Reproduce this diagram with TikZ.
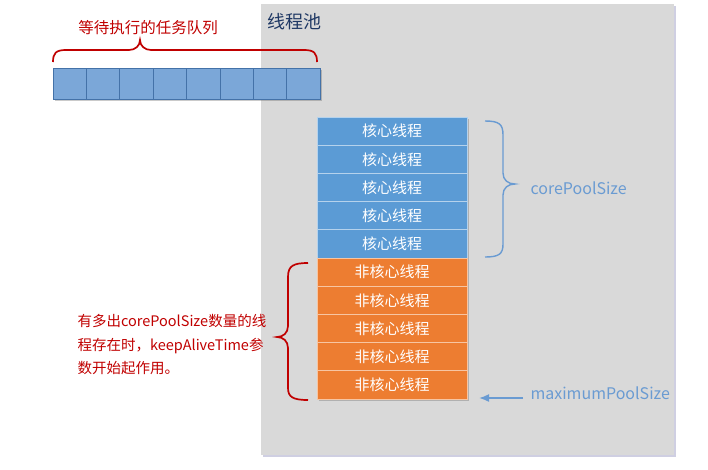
\documentclass[tikz,border=0pt]{standalone}
\usepackage{fontspec}
\setmainfont{Noto Sans CJK SC}
\usetikzlibrary{positioning,shadows,arrows.meta}

\definecolor{poolgray}{HTML}{D9D9D9}
\definecolor{poolnavy}{HTML}{1F3864}
\definecolor{queuefill}{HTML}{7BA7D8}
\definecolor{queueline}{HTML}{4472A8}
\definecolor{coreblue}{HTML}{5B9BD5}
\definecolor{extraorange}{HTML}{ED7D31}
\definecolor{notered}{HTML}{C00000}
\definecolor{labelblue}{HTML}{6A9BD2}

\tikzset{
  cellshadow/.style={drop shadow={shadow xshift=2pt, shadow yshift=-2pt, opacity=0.35, fill=black!60}},
  queuecell/.style={rectangle, draw=queueline, line width=1pt, fill=queuefill,
    minimum width=33.4pt, minimum height=31pt, inner sep=0pt, outer sep=0pt, cellshadow},
  corecell/.style={rectangle, draw=white!55!coreblue, line width=0.8pt, fill=coreblue,
    minimum width=150pt, minimum height=28.2pt, inner sep=0pt, outer sep=0pt,
    text=white, font=\fontsize{15}{15}\selectfont, cellshadow},
  extracell/.style={corecell, draw=white!55!extraorange, fill=extraorange},
  redbrace/.style={notered, line width=1.7pt},
  bluebrace/.style={labelblue, line width=1.4pt},
}

\begin{document}
\begin{tikzpicture}[x=1pt, y=-1pt]
        \useasboundingbox (0,0) rectangle (708,469);

        % thread pool area
        \node[rectangle, fill=poolgray, minimum width=413pt, minimum height=451pt, anchor=north west,
          drop shadow={shadow xshift=1.5pt, shadow yshift=-1.5pt, opacity=0.5, fill=blue!25!gray!60}]
          (pool) at (261,4) {};
        \node[anchor=west, text=poolnavy, font=\fontsize{18}{18}\selectfont] (pooltitle) at (264,22) {线程池};

        % waiting queue
        \node[queuecell, anchor=north west] (q1) at (53,68) {};
        \node[queuecell, right=0pt of q1] (q2) {};
        \node[queuecell, right=0pt of q2] (q3) {};
        \node[queuecell, right=0pt of q3] (q4) {};
        \node[queuecell, right=0pt of q4] (q5) {};
        \node[queuecell, right=0pt of q5] (q6) {};
        \node[queuecell, right=0pt of q6] (q7) {};
        \node[queuecell, right=0pt of q7] (q8) {};
        \node[text=notered, font=\fontsize{15.5}{15.5}\selectfont] (queuelbl) at (148,28) {等待执行的任务队列};

        % core threads
        \node[corecell, anchor=north west] (core1) at (317,117) {核心线程};
        \node[corecell, below=0pt of core1] (core2) {核心线程};
        \node[corecell, below=0pt of core2] (core3) {核心线程};
        \node[corecell, below=0pt of core3] (core4) {核心线程};
        \node[corecell, below=0pt of core4] (core5) {核心线程};

        % non-core threads
        \node[extracell, below=0pt of core5] (nc1) {非核心线程};
        \node[extracell, below=0pt of nc1] (nc2) {非核心线程};
        \node[extracell, below=0pt of nc2] (nc3) {非核心线程};
        \node[extracell, below=0pt of nc3] (nc4) {非核心线程};
        \node[extracell, below=0pt of nc4] (nc5) {非核心线程};

        % labels
        \node[anchor=west, text=labelblue, font=\fontsize{16}{16}\selectfont] (corelbl) at (527,188) {corePoolSize};
        \node[anchor=west, text=labelblue, font=\fontsize{16}{16}\selectfont] (maxlbl) at (527,393) {maximumPoolSize};
        \node[anchor=west, align=left, text=notered, font=\fontsize{14.5}{23.5}\selectfont] (keepnote) at (74,345)
          {有多出corePoolSize数量的线\\程存在时，keepAliveTime参\\数开始起作用。};

        % braces
        \draw[redbrace] (53,62) .. controls (53,53) and (56,50) .. (66,50) -- (129,50)
          .. controls (135,50) and (140,46) .. (140,40) .. controls (140,46) and (145,50) .. (151,50)
          -- (304,50) .. controls (314,50) and (317,53) .. (317,62);
        \draw[bluebrace] (485,121) .. controls (499,121) and (503,124) .. (503,135) -- (503,173)
          .. controls (503,180) and (508,184) .. (515,184) .. controls (508,184) and (503,188) .. (503,195)
          -- (503,244) .. controls (503,254) and (499,257) .. (485,257);
        \draw[redbrace] (308,263) .. controls (293,263) and (288,266) .. (288,277) -- (288,326)
          .. controls (288,333) and (283,337) .. (277,337) .. controls (283,337) and (288,341) .. (288,348)
          -- (288,388) .. controls (288,397) and (293,400) .. (308,400);

        % arrow to the last thread
        \coordinate (maxtip) at ([xshift=12pt,yshift=1pt]nc5.south east);
        \coordinate (maxtail) at ([xshift=-4pt]maxlbl.west);
        \draw[labelblue, line width=1.6pt, -{Latex[length=10pt,width=8pt]}] (maxtail |- maxtip) -- (maxtip);
    \end{tikzpicture}
\end{document}
